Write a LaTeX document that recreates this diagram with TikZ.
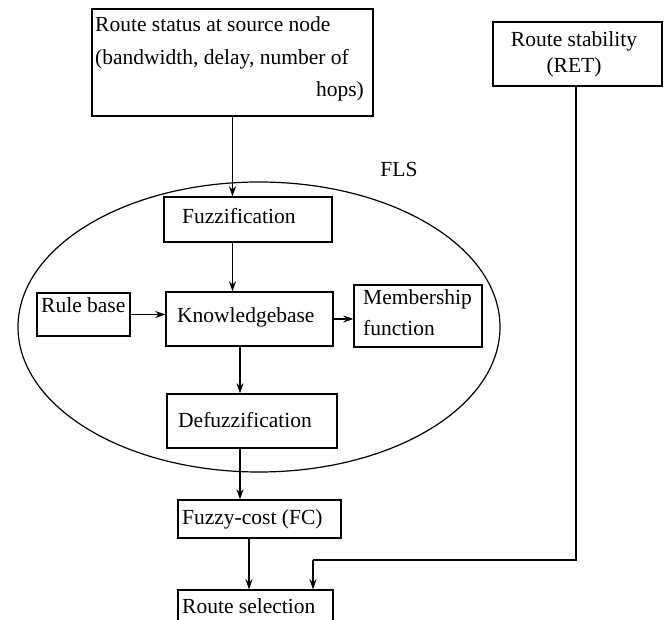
\documentclass[tikz,border=0pt]{standalone}
\usepackage{fontspec}
\setmainfont{Liberation Serif}
\usetikzlibrary{arrows.meta,shapes.geometric,calc}
\begin{document}
\begin{tikzpicture}[x=1pt,y=-1pt,
  box/.style={draw, line width=1.4pt, inner sep=0pt},
  lbl/.style={inner sep=0pt, font=\fontsize{21.5}{25}\selectfont},
  arr/.style={draw, line width=1.1pt, -{Stealth[length=10pt,width=7pt]}},
  ln/.style={draw, line width=1.3pt}]
\useasboundingbox (0,0) rectangle (670,620);
% ellipse
\node[ellipse, draw, line width=1.2pt, minimum width=482pt, minimum height=290pt, inner sep=0pt] (fls) at (259,327) {};
% boxes
\node[box, minimum width=281pt, minimum height=107pt] (src) at (232.5,62.5) {};
\node[box, minimum width=169pt, minimum height=64pt] (ret) at (577.5,54) {};
\node[box, minimum width=168pt, minimum height=45pt] (fuzz) at (248,219.5) {};
\node[box, minimum width=167pt, minimum height=54pt] (know) at (249.5,319) {};
\node[box, minimum width=93pt, minimum height=43pt] (rule) at (83.5,314.5) {};
\node[box, minimum width=128pt, minimum height=62pt] (memb) at (418,316) {};
\node[box, minimum width=170pt, minimum height=54pt] (defuzz) at (252,421) {};
\node[box, minimum width=163pt, minimum height=38pt] (fc) at (259.5,519) {};
\node[box, minimum width=155pt, minimum height=45pt] (rs) at (255.5,612.5) {};
% texts
\node[lbl, anchor=base west] (t1) at (95,32) {Route status at source node};
\node[lbl, anchor=base west] (t2) at (95,65) {(bandwidth, delay, number of};
\node[lbl, anchor=base east] (t3) at (364,97) {hops)};
\node[lbl, anchor=base] (t4) at (574,47) {Route stability};
\node[lbl, anchor=base] (t5) at (574,73) {(RET)};
\node[lbl, anchor=base] (t6) at (399,177) {FLS};
\node[lbl, anchor=base west] (t7) at (182,224) {Fuzzification};
\node[lbl, anchor=base west] (t8) at (177,323) {Knowledgebase};
\node[lbl, anchor=base west] (t9) at (41,313) {Rule base};
\node[lbl, anchor=base west] (t10) at (363,305) {Membership};
\node[lbl, anchor=base west] (t11) at (363,336) {function};
\node[lbl, anchor=base west] (t12) at (178,428) {Defuzzification};
\node[lbl, anchor=base west] (t13) at (182,525) {Fuzzy-cost (FC)};
\node[lbl, anchor=base west] (t14) at (182,613) {Route selection};
% helper coordinates
\coordinate (c1) at (240,0);
\coordinate (c2) at (249,0);
\coordinate (c3) at (576,0);
\coordinate (c4) at (313,560);
% connectors
\draw[arr] (src.south) -- (src.south |- fuzz.north);
\draw[arr] (src.south |- fuzz.south) -- (src.south |- know.north);
\draw[arr] (rule.east) -- (rule.east -| know.west);
\draw[arr] (know.east) -- (know.east -| memb.west);
\draw[arr] (know.south -| c1) -- (defuzz.north -| c1);
\draw[arr] (defuzz.south -| c1) -- (fc.north -| c1);
\draw[arr] (fc.south -| c2) -- (rs.north -| c2);
\draw[ln] (ret.south -| c3) |- (c4);
\draw[arr] (c4) -- (rs.north -| c4);
\end{tikzpicture}
\end{document}
